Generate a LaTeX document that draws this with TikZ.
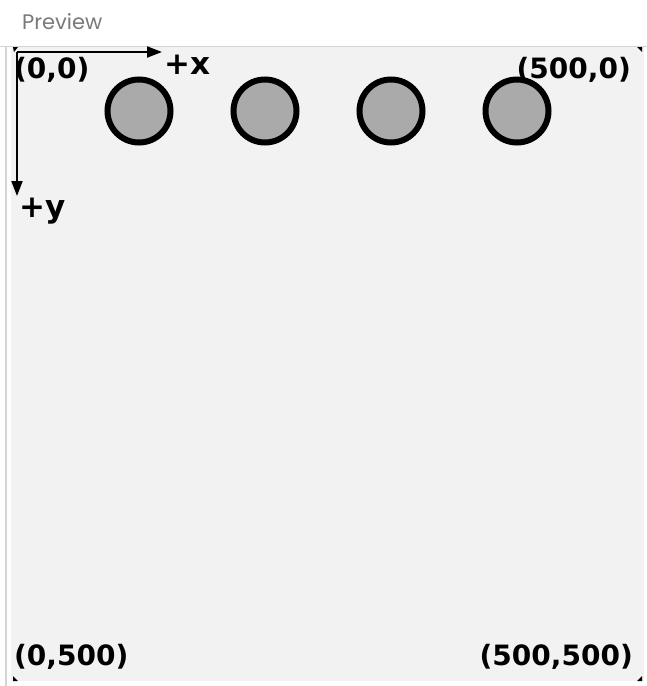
\documentclass[tikz,border=0pt]{standalone}
\usepackage{fontspec}
\setmainfont{DejaVu Sans}
\newfontfamily\prevfont{Poppins}
\usetikzlibrary{arrows.meta}
\definecolor{canvasgray}{HTML}{F2F2F2}
\definecolor{ballgray}{HTML}{AAAAAA}
\definecolor{prevgray}{HTML}{7A7A7A}
\definecolor{edgegray}{HTML}{D4D4D4}
\tikzset{
  ball/.style={circle, draw=black, line width=6pt, fill=ballgray, minimum size=63pt, inner sep=0pt},
  coordlabel/.style={font=\bfseries\fontsize{28}{28}\selectfont, inner sep=0pt, text=black},
  axislabel/.style={font=\bfseries\fontsize{31}{31}\selectfont, inner sep=0pt, text=black},
  axis/.style={line width=2pt, -{Triangle[length=15pt,width=11pt]}},
  cornermark/.style={fill=black}
}
\begin{document}
\begin{tikzpicture}[x=1pt,y=-1pt]
\useasboundingbox (0,0) rectangle (647,686);
\fill[white] (0,0) rectangle (647,686);
\node[font=\prevfont\fontsize{21}{21}\selectfont, text=prevgray, anchor=west, inner sep=0pt] (prev) at (22,22) {Preview};
\draw[edgegray, line width=1pt] (0,46) -- (647,46);
\fill[canvasgray] (11,47) rectangle (644,681);
\draw[edgegray, line width=1.5pt] (6,47) -- (6,686);
% corner marks
\fill[cornermark] (13,47) -- (18,47) -- (14,52) -- cycle;
\fill[cornermark] (637,47) -- (642,47) -- (642,52) -- cycle;
\fill[cornermark] (13,676) -- (18,681) -- (13,681) -- cycle;
\fill[cornermark] (642,676) -- (642,681) -- (637,681) -- cycle;
% axes
\coordinate (o) at (17,52);
\coordinate (xend) at (162,52);
\coordinate (yend) at (17,196);
\draw[axis] (o) -- (xend);
\draw[axis] (o) -- (yend);
\node[axislabel, anchor=west] (px) at (164,65) {+x};
\node[axislabel, anchor=west] (py) at (19,211) {+y};
% coordinate labels
\node[coordlabel, anchor=west] (c00) at (14,70) {(0,0)};
\node[coordlabel, anchor=east] (c50) at (631,70) {(500,0)};
\node[coordlabel, anchor=west] (c05) at (14,657) {(0,500)};
\node[coordlabel, anchor=east] (c55) at (633,657) {(500,500)};
% balls
\node[ball] (b1) at (139,111) {};
\node[ball] (b2) at (265,111) {};
\node[ball] (b3) at (391,111) {};
\node[ball] (b4) at (517,111) {};
\end{tikzpicture}
\end{document}
